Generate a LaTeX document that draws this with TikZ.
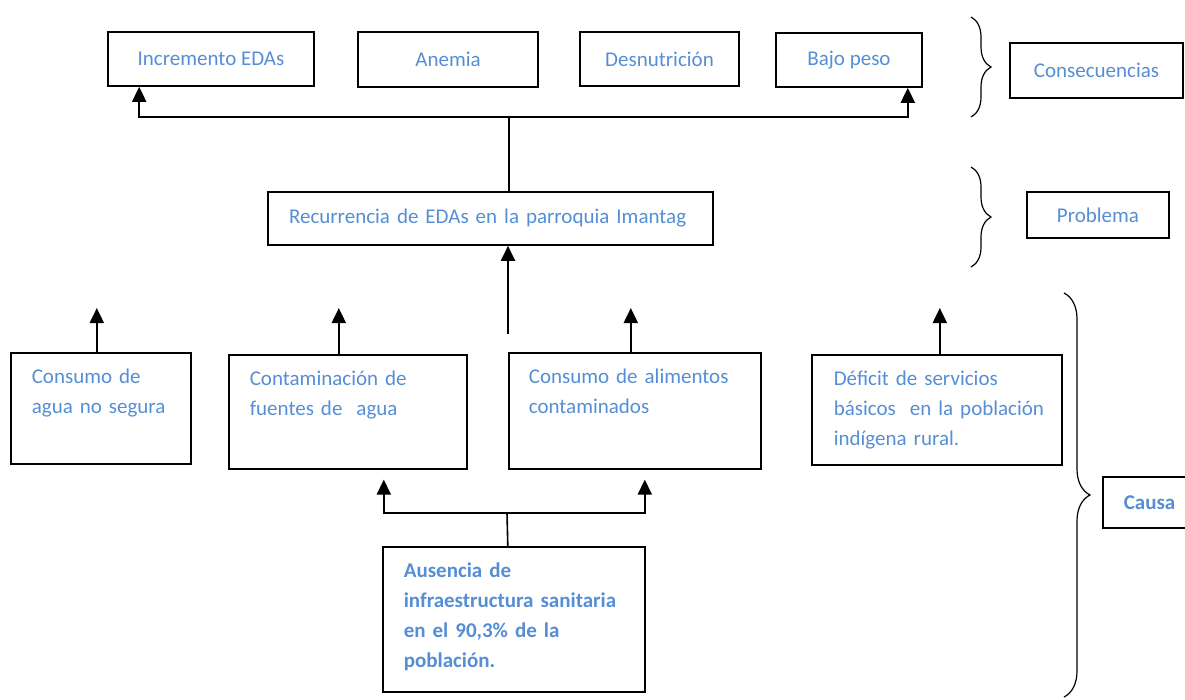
\documentclass[tikz,border=0pt]{standalone}
\usepackage{fontspec}
\setmainfont{Carlito}
\usetikzlibrary{arrows.meta,decorations.pathreplacing}
\definecolor{txtblue}{RGB}{85,142,213}

\begin{document}
\begin{tikzpicture}[x=1pt, y=-1pt, >={Triangle[width=14pt,length=15pt]}, line width=1.6pt,
  box/.style={draw, text=txtblue, font=\fontsize{21}{30}\selectfont, inner sep=0pt},
  causebox/.style={box, anchor=north west, align=left, inner xsep=21pt, inner ysep=16pt, text height=15pt},
  brc/.style={decorate, decoration={brace, amplitude=#1}, line width=1.2pt}]
\useasboundingbox (0,0) rectangle (1185,699);

% consecuencias
\node[box, minimum width=206pt, minimum height=54pt] (inc) at (211,59) {Incremento EDAs};
\node[box, minimum width=180pt, minimum height=55pt] (anem) at (448,59.5) {Anemia};
\node[box, minimum width=159pt, minimum height=54pt] (desn) at (659.5,59) {Desnutrición};
\node[box, minimum width=146pt, minimum height=54pt] (bajo) at (849,60) {Bajo peso};

% problema
\node[box, align=left, text width=403pt, inner xsep=21pt, minimum height=53pt] (prob) at (490.5,218.5)
  {Recurrencia de EDAs en la parroquia Imantag};

% causas
\node[causebox, text width=138pt, text depth=64pt] (agua) at (10,352) {Consumo de\\agua no segura};
\node[causebox, text width=196pt, text depth=67pt] (cont) at (228,354) {Contaminación de\\fuentes de \ agua};
\node[causebox, text width=212pt, inner xsep=20pt, text depth=69pt] (alim) at (508,352) {Consumo de alimentos\\contaminados};
\node[causebox, text width=206pt, inner xsep=22pt, text depth=63pt] (def) at (811,354)
  {Déficit de servicios\\\mbox{básicos \ en la población}\\indígena rural.};
\node[causebox, font=\fontsize{21}{30}\selectfont\bfseries, text width=220pt, text depth=98pt] (aus) at (382,546)
  {Ausencia de\\\mbox{infraestructura sanitaria}\\en el 90,3\% de la\\población.};

% niveles
\node[box, minimum width=173pt, minimum height=55pt] (cons) at (1096.5,70.5) {Consecuencias};
\node[box, minimum width=142pt, minimum height=46pt] (probl) at (1098,215) {Problema};
\node[box, font=\fontsize{21}{30}\selectfont\bfseries, anchor=west, align=left, text width=77pt, inner xsep=21pt,
  minimum height=51pt] (causa) at (1102,502.5) {Causa};

\draw[brc=20pt] (971,17) -- (971,117);
\draw[brc=20pt] (971,167) -- (971,267);
\draw[brc=26pt] (1064,293) -- (1064,697);

% flechas
\coordinate (top) at (509,117);
\draw (top |- prob.north) -- (top);
\draw[->, line width=2pt] (top) -| ([xshift=32pt]inc.south west);
\draw[->, line width=2pt] (top) -| ([xshift=-15pt]bajo.south east);

\coordinate (up) at (508,334);
\draw[->, line width=2pt] (up) -- (up |- prob.south);

\coordinate (tip) at (0,308);
\foreach \n/\dx in {agua/-4, cont/-9, alim/-4, def/3}
  \draw[->, line width=2pt] ([xshift=\dx pt]\n.north) -- ([xshift=\dx pt]\n.north |- tip);

\coordinate (low) at (507,513);
\draw ([xshift=-6pt]aus.north) -- (low);
\draw[->, line width=2pt, shorten >=10pt] (low) -| ([xshift=36pt]cont.south);
\draw[->, line width=2pt, shorten >=10pt] (low) -| ([xshift=10pt]alim.south);
\end{tikzpicture}
\end{document}
